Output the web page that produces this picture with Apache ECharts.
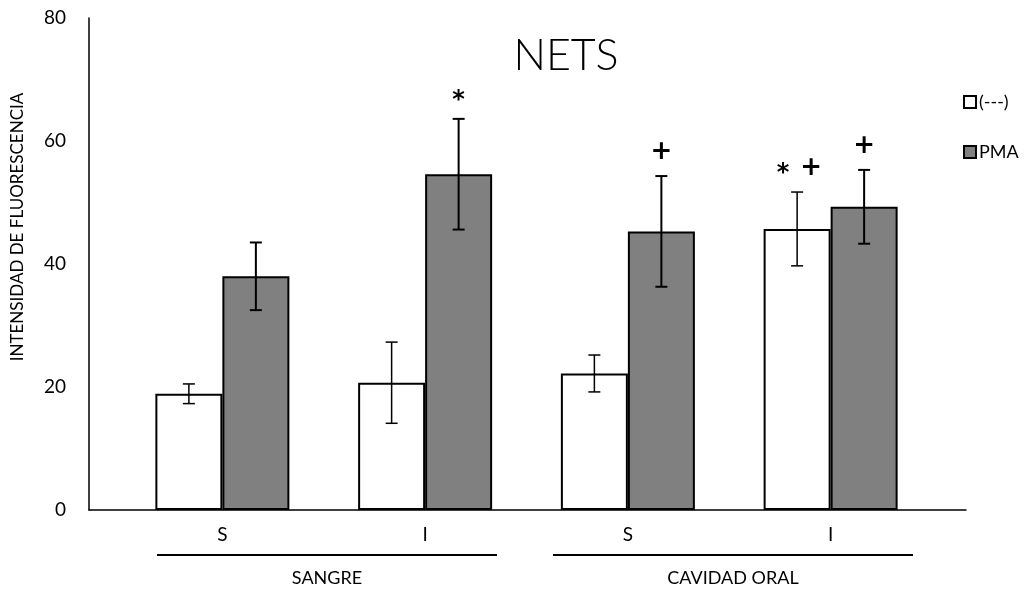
<!DOCTYPE html>
<html>
<head>
<meta charset="utf-8">
<script src="https://cdn.jsdelivr.net/npm/echarts@6/dist/echarts.min.js"></script>
<style>html,body{margin:0;padding:0;background:#fff}#c{width:1031px;height:590px}</style>
</head>
<body>
<div id="c"></div>
<script>
const categories = ['S', 'I', 'S', 'I'];
const groupNames = ['SANGRE', 'CAVIDAD ORAL'];
const seriesNames = ['(---)', 'PMA'];
const ctrlValues = [18.9, 20.7, 22.2, 45.7];
const ctrlErrors = [1.6, 6.6, 3.0, 6.0];
const pmaValues = [38.0, 54.6, 45.3, 49.3];
const pmaErrors = [5.5, 9.0, 9.0, 6.0];
const ctrlMarks = ['', '', '', '* +'];
const pmaMarks = ['', '*', '+', '+'];
const yTicks = { min: 0, max: 80, interval: 20 };
const yAxisTitle = 'INTENSIDAD DE FLUORESCENCIA';
const chartTitle = 'NETS';

const FONT = 'Lato';
const BAR_W = 67;

function errorSeries(values, errors, marks, side, lw) {
  return {
    type: 'custom',
    xAxisIndex: 0, yAxisIndex: 0,
    z: 10,
    silent: true,
    data: values.map((v, i) => [i, v, errors[i]]),
    renderItem: function (params, api) {
      const i = api.value(0), v = api.value(1), e = api.value(2);
      const x = api.coord([i, 0])[0] + side * BAR_W / 2;
      const yt = api.coord([i, v + e])[1];
      const yb = api.coord([i, v - e])[1];
      const st = { stroke: '#000', lineWidth: lw };
      const children = [
        { type: 'line', shape: { x1: x, y1: yt, x2: x, y2: yb }, style: st },
        { type: 'line', shape: { x1: x - 6, y1: yt, x2: x + 6, y2: yt }, style: st },
        { type: 'line', shape: { x1: x - 6, y1: yb, x2: x + 6, y2: yb }, style: st }
      ];
      const m = marks[params.dataIndex];
      if (m) {
        const parts = m.split(' ');
        const sp = 28;
        parts.forEach((p, k) => {
          const px = x + (k - (parts.length - 1) / 2) * sp;
          const isStar = p === '*';
          children.push({
            type: 'text',
            style: {
              text: p, x: px, y: yt - 24 + (isStar ? 6 : 0),
              align: 'center', verticalAlign: 'middle',
              font: isStar ? 'bold 24px "DejaVu Sans"' : 'bold 26px "DejaVu Sans"', fill: '#000'
            }
          });
        });
      }
      return { type: 'group', children: children };
    }
  };
}

const chart = echarts.init(document.getElementById('c'));
chart.setOption({
  animation: false,
  backgroundColor: '#fff',
  title: {
    text: chartTitle, left: 561, top: 30, textAlign: 'center',
    textStyle: { fontFamily: FONT, fontSize: 43, fontWeight: 300, color: '#000' }
  },
  legend: {
    orient: 'vertical', left: 958, top: 88, itemGap: 32,
    itemWidth: 12, itemHeight: 12, icon: 'rect',
    data: seriesNames,
    textStyle: { fontFamily: FONT, fontSize: 18, color: '#000', padding: [0, 0, 0, -2] }
  },
  grid: [
    { left: 121, right: 99, top: 18, bottom: 80 },
    { left: 89, right: 65, top: 18, bottom: 80 }
  ],
  xAxis: [
    {
      type: 'category', gridIndex: 0, data: categories,
      axisLine: { show: false }, axisTick: { show: false },
      axisLabel: { fontFamily: FONT, fontSize: 19, color: '#000', margin: 15 }
    },
    {
      type: 'value', gridIndex: 1, min: 0, max: 1,
      axisLine: { show: true, lineStyle: { color: '#000', width: 1.5 } },
      axisTick: { show: false }, axisLabel: { show: false }, splitLine: { show: false }
    }
  ],
  yAxis: [
    { type: 'value', gridIndex: 0, min: yTicks.min, max: yTicks.max, interval: yTicks.interval, show: false },
    {
      type: 'value', gridIndex: 1, min: yTicks.min, max: yTicks.max, interval: yTicks.interval,
      axisLine: { show: true, lineStyle: { color: '#000', width: 1.5 } },
      axisTick: { show: false }, splitLine: { show: false },
      axisLabel: { fontFamily: FONT, fontSize: 19, color: '#000', margin: 23 }
    }
  ],
  graphic: [
    { type: 'text', x: 18, y: 227, rotation: Math.PI / 2,
      style: { text: yAxisTitle, font: '17px ' + FONT, fill: '#000', align: 'center', verticalAlign: 'middle' } },
    { type: 'line', shape: { x1: 157, y1: 555, x2: 497, y2: 555 }, style: { stroke: '#000', lineWidth: 2 } },
    { type: 'line', shape: { x1: 553, y1: 555, x2: 913, y2: 555 }, style: { stroke: '#000', lineWidth: 2 } },
    { type: 'text', x: 327, y: 578, style: { text: groupNames[0], font: '18px ' + FONT, fill: '#000', align: 'center', verticalAlign: 'middle' } },
    { type: 'text', x: 733, y: 578, style: { text: groupNames[1], font: '18px ' + FONT, fill: '#000', align: 'center', verticalAlign: 'middle' } }
  ],
  series: [
    { name: seriesNames[0], type: 'bar', xAxisIndex: 0, yAxisIndex: 0, data: ctrlValues,
      barWidth: BAR_W, barGap: '0%',
      itemStyle: { color: '#fff', borderColor: '#000', borderWidth: 2 } },
    { name: seriesNames[1], type: 'bar', xAxisIndex: 0, yAxisIndex: 0, data: pmaValues,
      barWidth: BAR_W, barGap: '0%',
      itemStyle: { color: '#808080', borderColor: '#000', borderWidth: 2 } },
    errorSeries(ctrlValues, ctrlErrors, ctrlMarks, -1, 1.5),
    errorSeries(pmaValues, pmaErrors, pmaMarks, 1, 2)
  ]
});
</script>
</body>
</html>
